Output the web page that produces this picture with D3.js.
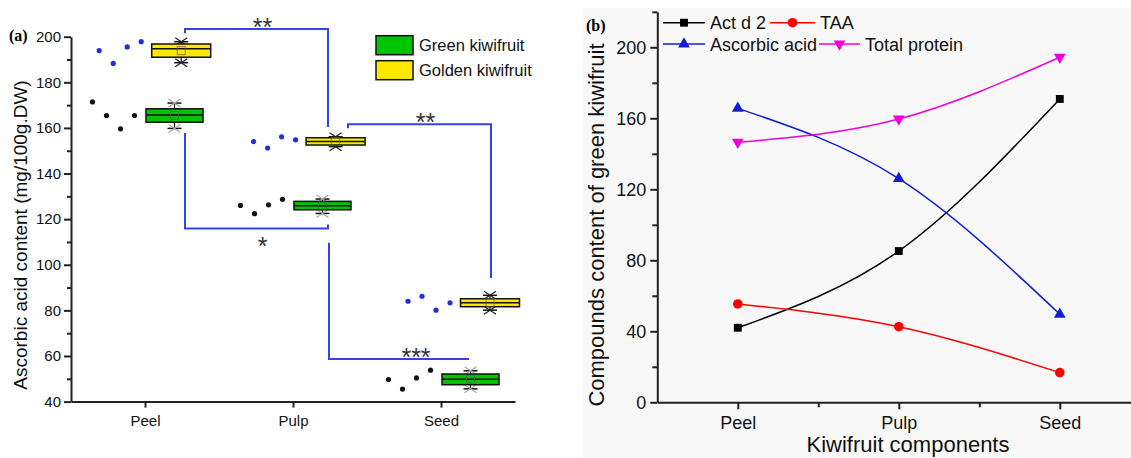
<!DOCTYPE html>
<html>
<head>
<meta charset="utf-8">
<script src="https://cdn.jsdelivr.net/npm/d3@7"></script>
<style>
  body { margin: 0; background: #fff; }
  svg { display: block; font-family: "Liberation Sans", Arial, sans-serif; }
</style>
</head>
<body>
<div id="chart"></div>
<script>
// ---- data: panel (a) box plots ----
var categories = ["Peel", "Pulp", "Seed"];
var groups = ["Green kiwifruit", "Golden kiwifruit"];

var greenPoints  = [[171.4, 165.4, 159.6, 165.4], [126.0, 122.4, 126.3, 128.7], [49.7, 45.5, 50.4, 53.8]];
var goldenPoints = [[193.9, 188.3, 195.5, 197.8], [154.0, 151.2, 156.1, 154.8], [84.0, 86.2, 80.1, 83.3]];

var greenQ1  = [162.5, 124.1, 47.4];
var greenMed = [165.7, 125.9, 49.8];
var greenQ3  = [168.4, 127.8, 52.1];
var greenMin = [159.8, 122.5, 45.6];
var greenMax = [170.9, 128.8, 53.5];

var goldenQ1  = [191.0, 152.5, 81.6];
var goldenMed = [194.7, 154.0, 83.3];
var goldenQ3  = [196.8, 155.7, 85.1];
var goldenMin = [188.6, 151.8, 80.1];
var goldenMax = [197.8, 156.1, 86.6];

// significance brackets: [left value start, horizontal value, right value end]
var sigLabels = ["**", "*", "**", "***"];
var sigLeft   = [201.5, 157.8, 159.9, 109.6];
var sigLevel  = [203.4, 115.9, 161.6, 58.7];
var sigRight  = [160.4, 117.7, 94.2, 58.7];

// ---- data: panel (b) lines ----
var components = ["Peel", "Pulp", "Seed"];
var seriesNames = ["Act d 2", "TAA", "Ascorbic acid", "Total protein"];
var actd2     = [42.0, 85.2, 170.9];
var taa       = [55.4, 42.6, 16.7];
var ascorbic  = [165.6, 126.0, 49.6];
var protein   = [146.5, 159.6, 194.4];

var W = 1131, H = 458;
var svg = d3.select("#chart").append("svg")
    .attr("width", W)
    .attr("height", H);

// ================= panel (a) =================
var yA = d3.scaleLinear().domain([40, 200]).range([401.6, 36.7]);
var xA = d3.scalePoint().domain(categories).range([71, 515]).padding(0.5);
// box centres: golden series is drawn on a slightly wider grid
var xGreen = d3.scalePoint().domain(categories).range([100.5, 544.5]).padding(0.5);
var xGold  = d3.scalePoint().domain(categories).range([104, 567.2]).padding(0.5);

var greenFill = "#00c400", goldFill = "#ffe800", sigBlue = "#3344e6";

var gA = svg.append("g");

// y axis
var yAxisA = gA.append("g")
    .attr("transform", "translate(71,0)")
    .call(d3.axisLeft(yA).tickValues(d3.range(40, 201, 20)).tickSize(7).tickSizeOuter(0).tickPadding(3));
gA.append("g")
    .attr("transform", "translate(71,0)")
    .call(d3.axisLeft(yA).tickValues(d3.range(50, 200, 20)).tickSize(4).tickFormat(""))
    .select(".domain").remove();

// x axis
var xAxisA = gA.append("g")
    .attr("transform", "translate(0,401.6)")
    .call(d3.axisBottom(xA).tickSize(6).tickSizeOuter(0).tickPadding(8));

[yAxisA, xAxisA].forEach(function(ax) {
  ax.selectAll("text").style("font-size", "15px").attr("fill", "#111");
});
gA.selectAll(".domain, .tick line").attr("stroke", "#222").attr("stroke-width", 2);

gA.append("text")
    .attr("transform", "translate(27,235) rotate(-90)")
    .attr("text-anchor", "middle")
    .style("font-size", "19px")
    .attr("fill", "#111")
    .text("Ascorbic acid content (mg/100g.DW)");

gA.append("text")
    .attr("x", 9).attr("y", 41)
    .style("font-family", "'Liberation Serif', 'Times New Roman', serif")
    .style("font-weight", "bold")
    .style("font-size", "16px")
    .text("(a)");

// significance brackets
var sigX1 = [xA("Peel") + 40, xA("Peel") + 40, xA("Pulp") + 55, xA("Pulp") + 36];
var sigX2 = [xA("Pulp") + 35, xA("Pulp") + 35, xA("Seed") + 50, xA("Seed") + 28];
sigLabels.forEach(function(lab, i) {
  gA.append("path")
      .attr("d", d3.line()([
        [sigX1[i], yA(sigLeft[i])], [sigX1[i], yA(sigLevel[i])],
        [sigX2[i], yA(sigLevel[i])], [sigX2[i], yA(sigRight[i])]
      ]))
      .attr("fill", "none")
      .attr("stroke", sigBlue)
      .attr("stroke-width", 2);
  var below = sigLevel[i] < sigLeft[i] && i === 1;
  var cx = i === 3 ? (sigX1[i] + sigX2[i]) / 2 + 17 : (sigX1[i] + sigX2[i]) / 2 + 6;
  var cy = below ? yA(sigLevel[i]) + 12 : yA(sigLevel[i]) - 7;
  gA.append("text")
      .attr("x", cx)
      .attr("y", cy + 14)
      .attr("text-anchor", "middle")
      .style("font-size", "25px")
      .attr("fill", "#333")
      .text(lab);
});

// box plots
function drawBoxes(xs, fill, pts, q1, med, q3, mn, mx, boxW, dotColor, markColor) {
  categories.forEach(function(c, i) {
    var cx = xs(c);
    var g = gA.append("g");
    // whiskers
    g.append("line").attr("x1", cx).attr("x2", cx).attr("y1", yA(mx[i])).attr("y2", yA(q3[i]))
        .attr("stroke", "#111").attr("stroke-width", 1.2);
    g.append("line").attr("x1", cx).attr("x2", cx).attr("y1", yA(q1[i])).attr("y2", yA(mn[i]))
        .attr("stroke", "#111").attr("stroke-width", 1.2);
    [mx[i], mn[i]].forEach(function(v) {
      g.append("line").attr("x1", cx - 7).attr("x2", cx + 7).attr("y1", yA(v)).attr("y2", yA(v))
          .attr("stroke", "#111").attr("stroke-width", 1.5);
      // cross markers at min / max
      g.append("path")
          .attr("d", "M" + (cx - 6) + "," + (yA(v) - 4) + "L" + (cx + 6) + "," + (yA(v) + 4) +
                     "M" + (cx - 6) + "," + (yA(v) + 4) + "L" + (cx + 6) + "," + (yA(v) - 4))
          .attr("stroke", markColor).attr("stroke-width", 1.2);
    });
    g.append("rect")
        .attr("x", cx - boxW / 2).attr("y", yA(q3[i]))
        .attr("width", boxW).attr("height", yA(q1[i]) - yA(q3[i]))
        .attr("fill", fill).attr("stroke", "#111").attr("stroke-width", 1.5);
    g.append("line").attr("x1", cx - boxW / 2).attr("x2", cx + boxW / 2)
        .attr("y1", yA(med[i])).attr("y2", yA(med[i]))
        .attr("stroke", "#111").attr("stroke-width", 1.5);
    // mean marker
    var m = d3.mean(pts[i]);
    g.append("rect")
        .attr("x", cx - 4).attr("y", yA(m) - 4).attr("width", 8).attr("height", 8)
        .attr("fill", "none").attr("stroke", "#555").attr("stroke-width", 1).attr("opacity", 0.7);
    // raw points beside the box
    g.selectAll("circle").data(pts[i]).enter().append("circle")
        .attr("cx", function(d, j) { return cx - 82 + 14 * j; })
        .attr("cy", function(d) { return yA(d); })
        .attr("r", 2.6)
        .attr("fill", dotColor);
  });
}
drawBoxes(xGreen, greenFill, greenPoints, greenQ1, greenMed, greenQ3, greenMin, greenMax, 57, "#111", "#aaa");
drawBoxes(xGold, goldFill, goldenPoints, goldenQ1, goldenMed, goldenQ3, goldenMin, goldenMax, 59, "#1f2ee6", "#222");

// legend (a)
[greenFill, goldFill].forEach(function(f, i) {
  gA.append("rect")
      .attr("x", 376).attr("y", 35.7 + i * 25)
      .attr("width", 37).attr("height", 19)
      .attr("fill", f).attr("stroke", "#111").attr("stroke-width", 1.5);
  gA.append("text")
      .attr("x", 419).attr("y", 51 + i * 25)
      .style("font-size", "16.5px")
      .attr("fill", "#111")
      .text(groups[i]);
});

// ================= panel (b) =================
var gB = svg.append("g");
gB.append("rect")
    .attr("x", 583).attr("y", 8)
    .attr("width", W - 583).attr("height", H - 8)
    .attr("fill", "#f8f8f8");

var yB = d3.scaleLinear().domain([0, 220]).range([402.3, 11.8]);
var xB = d3.scaleLinear().domain([0.5, 3.5]).range([657.3, 1140.3]);

var yAxisB = gB.append("g")
    .attr("transform", "translate(657.3,0)")
    .call(d3.axisLeft(yB).tickValues(d3.range(0, 201, 40)).tickSize(7).tickSizeOuter(0).tickPadding(4));
gB.append("g")
    .attr("transform", "translate(657.3,0)")
    .call(d3.axisLeft(yB).tickValues(d3.range(20, 221, 40)).tickSize(5).tickFormat(""))
    .select(".domain").remove();

var xAxisB = gB.append("g")
    .attr("transform", "translate(0,402.3)")
    .call(d3.axisBottom(xB).tickValues([1, 2, 3]).tickFormat(function(d) { return components[d - 1]; })
      .tickSize(7).tickSizeOuter(0).tickPadding(7));
gB.append("g")
    .attr("transform", "translate(0,402.3)")
    .call(d3.axisBottom(xB).tickValues([1.5, 2.5]).tickSize(5).tickFormat(""))
    .select(".domain").remove();

[yAxisB, xAxisB].forEach(function(ax) {
  ax.selectAll("text").style("font-size", "18px").attr("fill", "#111");
});
gB.selectAll(".domain, .tick line").attr("stroke", "#222").attr("stroke-width", 2);

gB.append("text")
    .attr("transform", "translate(604,225) rotate(-90)")
    .attr("text-anchor", "middle")
    .style("font-size", "22px")
    .attr("fill", "#111")
    .text("Compounds content of green kiwifruit");

gB.append("text")
    .attr("x", 908).attr("y", 452)
    .attr("text-anchor", "middle")
    .style("font-size", "22px")
    .attr("fill", "#111")
    .text("Kiwifruit components");

gB.append("text")
    .attr("x", 586).attr("y", 31)
    .style("font-family", "'Liberation Serif', 'Times New Roman', serif")
    .style("font-weight", "bold")
    .style("font-size", "16px")
    .text("(b)");

var seriesData = [actd2, taa, ascorbic, protein];
var seriesColors = ["#000000", "#ff0000", "#1020d0", "#ee00dd"];
var seriesSymbols = [d3.symbolSquare, d3.symbolCircle, d3.symbolTriangle, d3.symbolTriangle];
var symbolSizes = [62, 72, 60, 60];
var symbolRot = [0, 0, 0, 180];

var line = d3.line()
    .x(function(d, i) { return xB(i + 1); })
    .y(function(d) { return yB(d); })
    .curve(d3.curveNatural);

function marker(g, k, x, y) {
  g.append("path")
      .attr("d", d3.symbol().type(seriesSymbols[k]).size(symbolSizes[k])())
      .attr("transform", "translate(" + x + "," + y + ") rotate(" + symbolRot[k] + ")")
      .attr("fill", seriesColors[k]);
}

seriesData.forEach(function(vals, k) {
  gB.append("path")
      .attr("d", line(vals))
      .attr("fill", "none")
      .attr("stroke", seriesColors[k])
      .attr("stroke-width", 1.5);
  vals.forEach(function(v, i) { marker(gB, k, xB(i + 1), yB(v)); });
});

// legend (b)
var legX = [663, 770, 663, 819], legW = [42, 45, 42, 41], legY = [22.7, 22.7, 44, 44];
seriesNames.forEach(function(name, k) {
  gB.append("line")
      .attr("x1", legX[k]).attr("x2", legX[k] + legW[k])
      .attr("y1", legY[k]).attr("y2", legY[k])
      .attr("stroke", seriesColors[k]).attr("stroke-width", 1.5);
  marker(gB, k, legX[k] + legW[k] / 2, legY[k]);
  gB.append("text")
      .attr("x", legX[k] + legW[k] + 5).attr("y", legY[k] + 6.5)
      .style("font-size", "18px")
      .attr("fill", "#111")
      .text(name);
});
</script>
</body>
</html>
